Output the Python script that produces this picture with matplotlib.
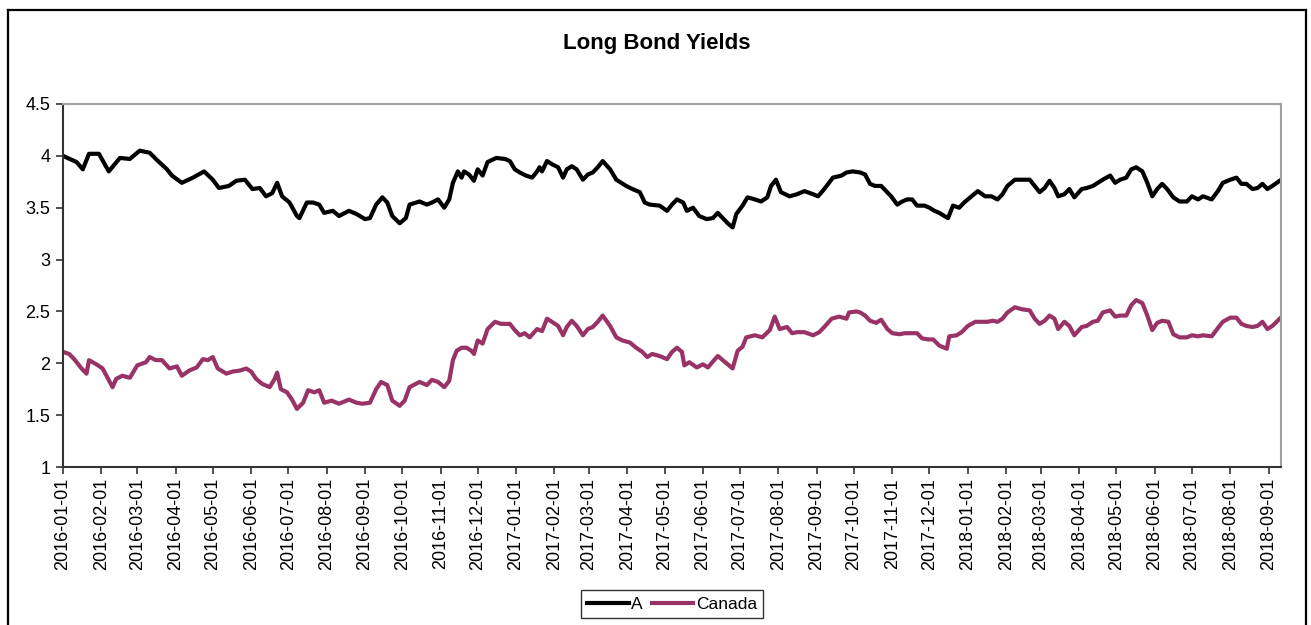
import datetime as dt
import matplotlib
matplotlib.use("Agg")
import matplotlib.pyplot as plt
import matplotlib.dates as mdates
from matplotlib.lines import Line2D
from matplotlib.ticker import FuncFormatter

plt.rcParams["font.family"] = ["Liberation Sans", "DejaVu Sans"]

START = dt.date(2016, 1, 1)
END = dt.date(2018, 9, 11)

# Days since 2016-01-01 and yields (%) for series "A"
a_day = [0, 11, 16, 21, 29, 37, 46, 54, 62, 70, 75, 84, 88, 96, 105, 114, 121, 126,
         134, 140, 147, 153, 159, 164, 169, 173, 177, 183, 189, 191, 197, 202, 207,
         211, 218, 223, 231, 237, 244, 248, 253, 258, 262, 266, 272, 277, 280, 288,
         294, 298, 303, 308, 312, 315, 319, 322, 324, 328, 332, 335, 339, 343, 350,
         357, 361, 365, 369, 374, 379, 383, 385, 387, 391, 395, 400, 404, 407, 411,
         415, 420, 424, 428, 432, 436, 442, 447, 451, 455, 460, 466, 470, 474, 482,
         488, 492, 496, 501, 504, 509, 514, 520, 525, 529, 533, 537, 541, 544, 549,
         553, 559, 564, 569, 572, 576, 580, 587, 593, 599, 606, 610, 615, 622, 629,
         633, 638, 644, 648, 652, 656, 661, 665, 669, 674, 678, 682, 686, 690, 696,
         700, 704, 708, 712, 715, 719, 724, 728, 734, 739, 745, 750, 755, 759, 763,
         769, 775, 781, 785, 789, 793, 797, 801, 804, 809, 813, 817, 823, 827, 832,
         836, 840, 846, 850, 854, 859, 863, 867, 872, 876, 880, 884, 888, 892, 897,
         902, 908, 912, 917, 921, 928, 933, 937, 943, 948, 952, 956, 961, 965, 969,
         973, 977, 983]
a_yield = [4.00, 3.94, 3.87, 4.02, 4.02, 3.85, 3.98, 3.97, 4.05, 4.03, 3.97, 3.87,
           3.81, 3.74, 3.79, 3.85, 3.77, 3.69, 3.71, 3.76, 3.77, 3.68, 3.69, 3.61,
           3.64, 3.74, 3.61, 3.55, 3.42, 3.40, 3.55, 3.55, 3.53, 3.45, 3.47, 3.42,
           3.47, 3.44, 3.39, 3.40, 3.53, 3.60, 3.55, 3.42, 3.35, 3.40, 3.53, 3.56,
           3.53, 3.55, 3.58, 3.50, 3.58, 3.74, 3.85, 3.79, 3.85, 3.82, 3.76, 3.87,
           3.81, 3.94, 3.98, 3.97, 3.95, 3.87, 3.84, 3.81, 3.79, 3.85, 3.89, 3.85,
           3.95, 3.92, 3.89, 3.79, 3.87, 3.90, 3.87, 3.77, 3.82, 3.84, 3.89, 3.95,
           3.87, 3.77, 3.74, 3.71, 3.68, 3.65, 3.55, 3.53, 3.52, 3.47, 3.53, 3.58,
           3.55, 3.47, 3.50, 3.42, 3.39, 3.40, 3.45, 3.40, 3.35, 3.31, 3.44, 3.52,
           3.60, 3.58, 3.56, 3.60, 3.71, 3.77, 3.65, 3.61, 3.63, 3.66, 3.63, 3.61,
           3.68, 3.79, 3.81, 3.84, 3.85, 3.84, 3.82, 3.73, 3.71, 3.71, 3.66, 3.61,
           3.53, 3.56, 3.58, 3.58, 3.52, 3.52, 3.50, 3.47, 3.45, 3.42, 3.40, 3.52,
           3.50, 3.55, 3.61, 3.66, 3.61, 3.61, 3.58, 3.63, 3.71, 3.77, 3.77, 3.77,
           3.71, 3.65, 3.69, 3.76, 3.69, 3.61, 3.63, 3.68, 3.60, 3.68, 3.69, 3.71,
           3.74, 3.77, 3.81, 3.74, 3.77, 3.79, 3.87, 3.89, 3.85, 3.74, 3.61, 3.68,
           3.73, 3.68, 3.60, 3.56, 3.56, 3.61, 3.58, 3.61, 3.58, 3.66, 3.74, 3.77,
           3.79, 3.73, 3.73, 3.68, 3.69, 3.73, 3.68, 3.71, 3.76]

# Days since 2016-01-01 and yields (%) for Canada
ca_day = [0, 5, 9, 15, 19, 21, 27, 32, 36, 40, 43, 48, 54, 60, 67, 70, 75, 80, 86,
          92, 96, 102, 108, 113, 117, 121, 125, 132, 137, 143, 148, 152, 156, 161,
          167, 171, 173, 176, 181, 185, 189, 194, 198, 203, 207, 211, 217, 223, 231,
          237, 242, 248, 253, 257, 262, 266, 272, 276, 280, 288, 294, 298, 303, 308,
          312, 315, 318, 322, 326, 330, 332, 335, 339, 343, 349, 354, 361, 365, 369,
          373, 377, 383, 387, 391, 395, 400, 404, 407, 411, 415, 420, 424, 428, 432,
          436, 442, 447, 452, 458, 463, 468, 472, 476, 482, 488, 492, 496, 500, 502,
          506, 512, 517, 521, 526, 529, 533, 537, 541, 545, 549, 552, 559, 565, 571,
          575, 579, 585, 589, 593, 599, 606, 611, 615, 621, 627, 633, 635, 641, 644,
          648, 652, 657, 661, 666, 670, 676, 680, 686, 690, 694, 699, 703, 708, 714,
          716, 722, 726, 731, 737, 742, 747, 751, 755, 759, 763, 769, 775, 781, 785,
          789, 793, 797, 801, 804, 809, 813, 817, 823, 827, 832, 836, 840, 846, 850,
          854, 859, 863, 867, 872, 876, 880, 884, 888, 893, 897, 902, 908, 912, 917,
          921, 928, 933, 937, 943, 948, 952, 956, 961, 965, 969, 973, 977, 983]
ca_yield = [2.11, 2.09, 2.04, 1.95, 1.90, 2.03, 1.99, 1.95, 1.86, 1.77, 1.85, 1.88,
            1.86, 1.98, 2.01, 2.06, 2.03, 2.03, 1.95, 1.97, 1.88, 1.93, 1.96, 2.04,
            2.03, 2.06, 1.95, 1.90, 1.92, 1.93, 1.95, 1.92, 1.85, 1.80, 1.77, 1.85,
            1.91, 1.75, 1.72, 1.65, 1.56, 1.62, 1.74, 1.72, 1.74, 1.62, 1.64, 1.61,
            1.65, 1.62, 1.61, 1.62, 1.75, 1.82, 1.79, 1.64, 1.59, 1.64, 1.77, 1.82,
            1.79, 1.84, 1.82, 1.77, 1.83, 2.03, 2.12, 2.15, 2.15, 2.12, 2.09, 2.22,
            2.19, 2.33, 2.40, 2.38, 2.38, 2.32, 2.27, 2.29, 2.25, 2.33, 2.31, 2.43,
            2.40, 2.36, 2.27, 2.35, 2.41, 2.36, 2.27, 2.33, 2.35, 2.40, 2.46, 2.36,
            2.25, 2.22, 2.20, 2.15, 2.11, 2.06, 2.09, 2.07, 2.04, 2.11, 2.15, 2.11,
            1.98, 2.01, 1.96, 1.99, 1.96, 2.03, 2.07, 2.03, 1.99, 1.95, 2.12, 2.16,
            2.25, 2.27, 2.25, 2.32, 2.45, 2.33, 2.35, 2.29, 2.30, 2.30, 2.27, 2.30,
            2.35, 2.43, 2.45, 2.43, 2.49, 2.50, 2.49, 2.46, 2.41, 2.39, 2.42, 2.33,
            2.29, 2.28, 2.29, 2.29, 2.29, 2.24, 2.23, 2.23, 2.17, 2.14, 2.26, 2.27,
            2.30, 2.36, 2.40, 2.40, 2.40, 2.41, 2.40, 2.43, 2.49, 2.54, 2.52, 2.51,
            2.43, 2.38, 2.41, 2.46, 2.43, 2.33, 2.40, 2.36, 2.27, 2.35, 2.36, 2.40,
            2.41, 2.49, 2.51, 2.45, 2.46, 2.46, 2.56, 2.61, 2.58, 2.46, 2.32, 2.39,
            2.41, 2.40, 2.28, 2.25, 2.25, 2.27, 2.26, 2.27, 2.26, 2.34, 2.40, 2.44,
            2.44, 2.38, 2.36, 2.35, 2.36, 2.40, 2.33, 2.36, 2.43]

TITLE = "Long Bond Yields"
SERIES_NAMES = ["A", "Canada"]
COLORS = ["#000000", "#993366"]
Y_TICKS = [1, 1.5, 2, 2.5, 3, 3.5, 4, 4.5]

W, H = 1311, 625
fig = plt.figure(figsize=(W / 100, H / 100), dpi=100)
ax = fig.add_axes([63 / W, 1 - 467 / H, (1281 - 63) / W, (467 - 104) / H])

a_dates = [START + dt.timedelta(days=d) for d in a_day]
ca_dates = [START + dt.timedelta(days=d) for d in ca_day]

ax.plot(a_dates, a_yield, color=COLORS[0], lw=3.0, solid_joinstyle="round",
        label=SERIES_NAMES[0])
ax.plot(ca_dates, ca_yield, color=COLORS[1], lw=3.0, solid_joinstyle="round",
        label=SERIES_NAMES[1])

ax.set_xlim(START, END)
ax.set_ylim(Y_TICKS[0], Y_TICKS[-1])
ax.set_yticks(Y_TICKS)
ax.yaxis.set_major_formatter(FuncFormatter(lambda v, _: f"{v:g}"))

ax.xaxis.set_major_locator(mdates.MonthLocator(bymonthday=1))
ax.xaxis.set_major_formatter(mdates.DateFormatter("%Y-%m-%d"))
for lbl in ax.get_xticklabels():
    lbl.set_rotation(90)

ax.tick_params(axis="both", direction="out", length=5, width=1.2,
               color="#333333", labelsize=13)
ax.tick_params(axis="y", pad=4)
ax.tick_params(axis="x", pad=3)

for side in ("left", "bottom"):
    ax.spines[side].set_color("#333333")
    ax.spines[side].set_linewidth(1.5)
for side in ("top", "right"):
    ax.spines[side].set_color("#a0a0a0")
    ax.spines[side].set_linewidth(1.5)

fig.text(657 / W, 1 - 43 / H, TITLE, ha="center", va="center",
         fontsize=16, fontweight="bold")

leg = fig.legend(loc="center", bbox_to_anchor=(672 / W, 1 - 604 / H), ncol=2,
                 fontsize=12.5, frameon=True, fancybox=False, edgecolor="black",
                 handlelength=2.4, handletextpad=0.15, columnspacing=0.5,
                 borderpad=0.35, borderaxespad=0)
leg.get_frame().set_linewidth(1.0)
for line in leg.get_lines():
    line.set_linewidth(3)

# Outer chart border
border_kw = dict(color="black", lw=1.6, transform=fig.transFigure)
fig.add_artist(Line2D([8 / W, 8 / W], [-0.01, 1 - 10 / H], **border_kw))
fig.add_artist(Line2D([8 / W, 1306 / W], [1 - 10 / H, 1 - 10 / H], **border_kw))
fig.add_artist(Line2D([1306 / W, 1306 / W], [-0.01, 1 - 10 / H], **border_kw))

fig.savefig("out.png", dpi=100)
